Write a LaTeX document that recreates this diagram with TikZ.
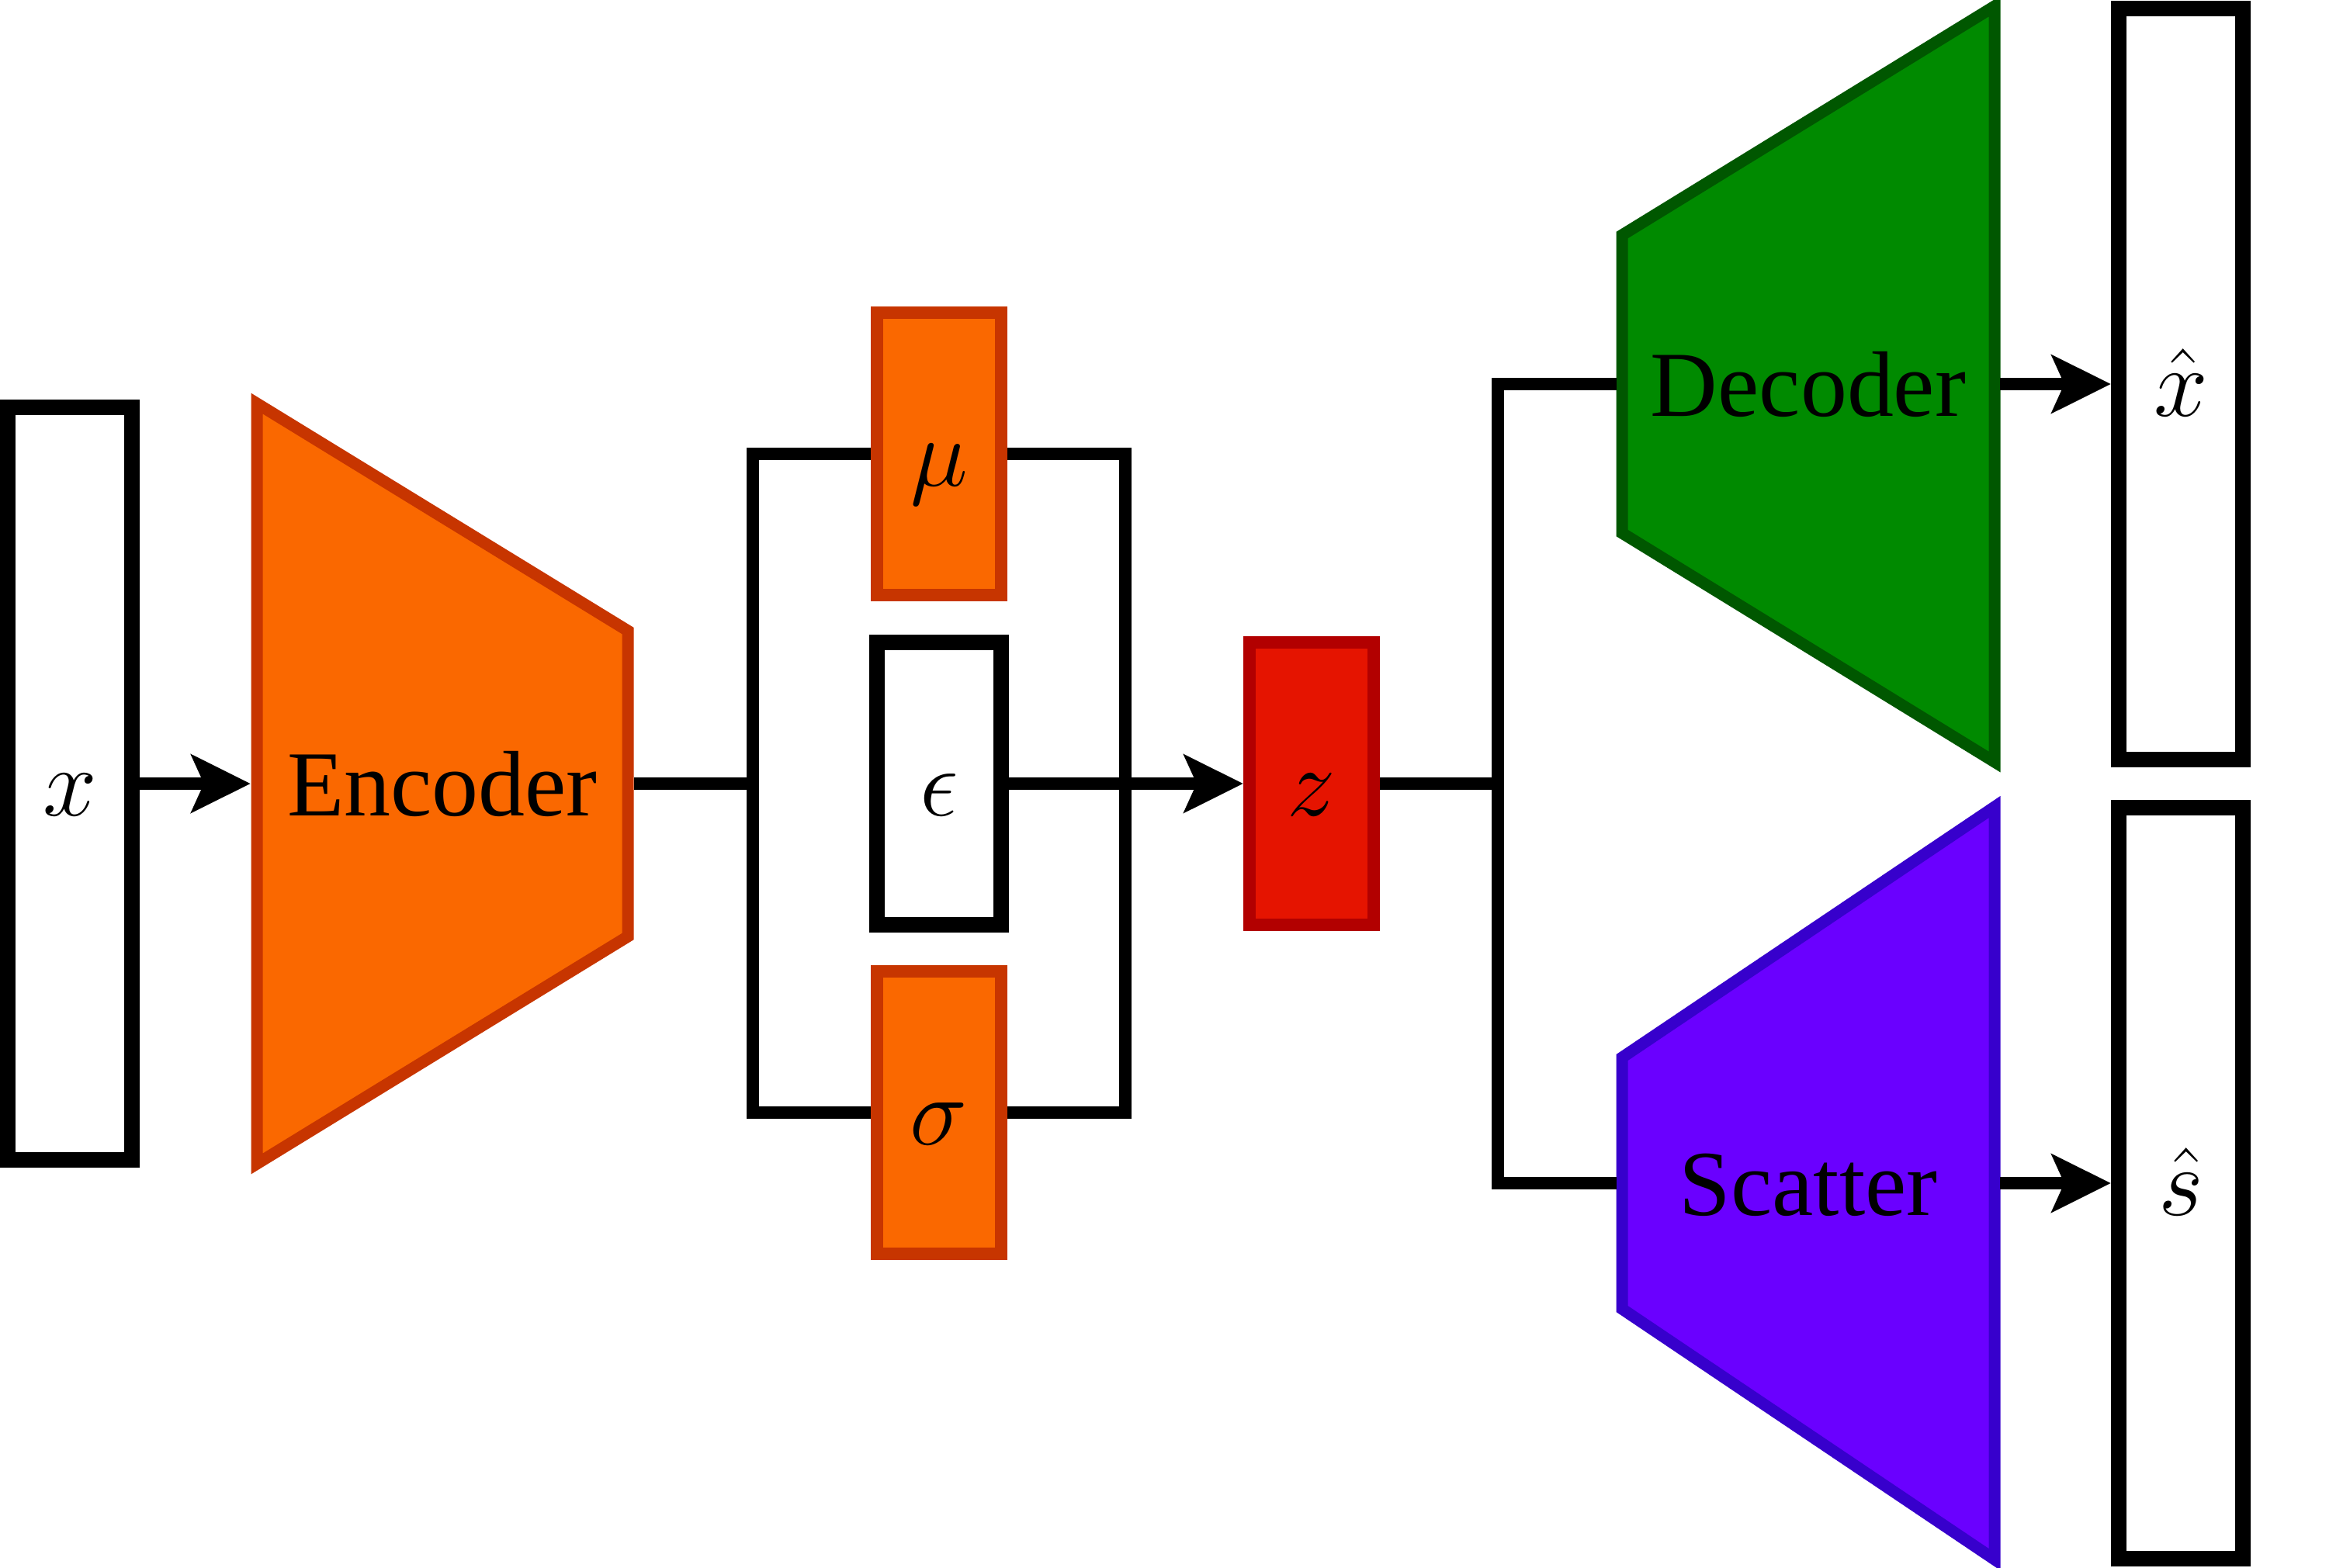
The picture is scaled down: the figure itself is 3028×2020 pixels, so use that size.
\RequirePackage{fix-cm}
\documentclass[tikz,border=0pt]{standalone}
\usepackage{fontspec}
\setmainfont{Liberation Serif}
\usetikzlibrary{arrows.meta}
\definecolor{orF}{HTML}{FA6800}
\definecolor{orS}{HTML}{C73500}
\definecolor{redF}{HTML}{E51400}
\definecolor{redS}{HTML}{B20000}
\definecolor{grF}{HTML}{008A00}
\definecolor{grS}{HTML}{005700}
\definecolor{viF}{HTML}{6A00FF}
\definecolor{viS}{HTML}{3700CC}
\newcommand\myMathSize{\fontsize{35.6pt}{42pt}\selectfont}
\newcommand\myTextSize{\fontsize{34.1pt}{40pt}\selectfont}
\begin{document}
\begin{tikzpicture}[x=0.01cm,y=-0.01cm,
  conn/.style={line width=0.16cm, draw=black},
  arr/.style={conn, -{Stealth[length=0.76cm,width=0.74cm,inset=0.16cm]}},
  vec/.style={draw=black, fill=white, line width=0.2cm, minimum width=1.6cm, inner sep=0pt, text height=0.82cm, text depth=0pt, font=\myMathSize},
  cbox/.style={line width=0.16cm, minimum width=1.6cm, minimum height=3.63cm, inner sep=0pt, text height=0.82cm, text depth=0pt, font=\myMathSize},
  lbl/.style={inner sep=0pt, outer sep=0pt, minimum width=4.94cm, minimum height=3cm, text height=0.82cm, text depth=0pt, font=\myTextSize},
  trap/.style={line width=0.15cm, line join=miter},
]
\useasboundingbox (0,0) rectangle (3028,2020);
% trapezoids
\draw[trap, draw=orS, fill=orF] (331,520) -- (809,813) -- (809,1207) -- (331,1500) -- cycle;
\node[lbl] (enc) at (570,1010) {Encoder};
\draw[trap, draw=grS, fill=grF] (2090,303) -- (2570,8) -- (2570,982) -- (2090,687) -- cycle;
\node[lbl] (dec) at (2330,495) {Decoder};
\draw[trap, draw=viS, fill=viF] (2090,1363) -- (2570,1040) -- (2570,2010) -- (2090,1687) -- cycle;
\node[lbl] (sca) at (2330,1525) {Scatter};
% boxes
\node[vec, minimum height=9.7cm] (xin) at (90,1010) {$x$};
\node[cbox, draw=orS, fill=orF] (mu) at (1210,585) {$\mu$};
\node[vec, minimum height=3.64cm] (eps) at (1210,1010) {$\epsilon$};
\node[cbox, draw=orS, fill=orF] (sig) at (1210,1434) {$\sigma$};
\node[cbox, draw=redS, fill=redF] (z) at (1690,1010) {$z$};
\node[vec, minimum height=9.68cm] (xhat) at (2810,495) {$\hat{x}$};
\node[vec, minimum height=9.68cm] (shat) at (2810,1525) {$\hat{s}$};
% junctions
\coordinate (bl) at (970,1010);
\coordinate (br) at (1450,1010);
\coordinate (bz) at (1930,1010);
% connectors
\draw[arr] (xin.east) -- (enc.west);
\draw[conn] (enc.east) -- (bl);
\draw[conn] (mu.west) -| (bl) |- (sig.west);
\draw[conn] (mu.east) -| (br) |- (sig.east);
\draw[conn] (eps.east) -- (br);
\draw[arr] (br) -- (z.west);
\draw[conn] (z.east) -- (bz);
\draw[conn] (dec.west) -| (bz) |- (sca.west);
\draw[arr] (dec.east) -- (xhat.west);
\draw[arr] (sca.east) -- (shat.west);
\end{tikzpicture}
\end{document}
